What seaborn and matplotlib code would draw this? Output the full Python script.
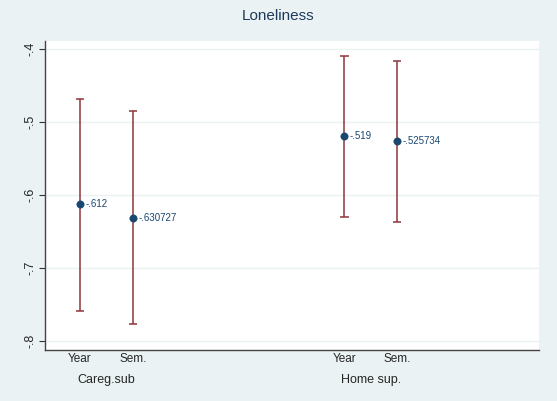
import matplotlib
matplotlib.use("Agg")
import matplotlib.pyplot as plt
import seaborn as sns
import pandas as pd

groups = ["Careg.sub", "Careg.sub", "Home sup.", "Home sup."]
kinds = ["Year", "Sem.", "Year", "Sem."]
positions = [1, 2, 6, 7]
estimates = [-0.612, -0.630727, -0.519, -0.525734]
labels = ["-.612", "-.630727", "-.519", "-.525734"]
ci_low = [-0.758, -0.777, -0.630, -0.637]
ci_high = [-0.468, -0.485, -0.410, -0.416]
yticks = [-0.4, -0.5, -0.6, -0.7, -0.8]
ytick_labels = ["-.4", "-.5", "-.6", "-.7", "-.8"]

df = pd.DataFrame({"pos": positions, "est": estimates, "lo": ci_low, "hi": ci_high})

sns.set_style("white")
plt.rcParams['font.family'] = ['Arial', 'Liberation Sans', 'DejaVu Sans']
bg = "#EAF2F3"
fig = plt.figure(figsize=(5.57, 4.01), dpi=100, facecolor=bg)
ax = fig.add_axes([45/557, 51/401, 494/557, 309/401])
ax.set_facecolor("white")

ax.vlines(df["pos"], df["lo"], df["hi"], color="#90353b", lw=1.1, zorder=2)
ax.hlines(df["lo"], df["pos"]-0.08, df["pos"]+0.08, color="#90353b", lw=1.1, zorder=2)
ax.hlines(df["hi"], df["pos"]-0.08, df["pos"]+0.08, color="#90353b", lw=1.1, zorder=2)
sns.scatterplot(data=df, x="pos", y="est", ax=ax, color="#1a476f", s=28, edgecolor="#1a476f", zorder=3)
for p, e, l in zip(positions, estimates, labels):
    ax.text(p + 0.1, e, l, fontsize=7, color="#1a476f", va="center", ha="left")

ax.set_xlim(0.34, 9.68)
ax.set_ylim(-0.812, -0.389)
ax.set_yticks(yticks)
ax.set_yticklabels(ytick_labels, rotation=90, va="center", fontsize=9)
ax.set_xticks(positions)
ax.set_xticklabels(kinds, fontsize=8.5)
ax.tick_params(axis="x", length=0, pad=2)
ax.tick_params(axis="y", length=4, left=True, color="#333333", pad=2)
for y in yticks:
    ax.axhline(y, color=bg, lw=1, zorder=1)
for gx, g in [(1.5, "Careg.sub"), (6.5, "Home sup.")]:
    ax.text(gx, -0.812 - 0.0325, g, fontsize=9, ha="center", va="top")
for s in ["top", "right"]:
    ax.spines[s].set_visible(False)
for s in ["left", "bottom"]:
    ax.spines[s].set_color("#444444")
    ax.spines[s].set_linewidth(1)
ax.set_xlabel("")
ax.set_ylabel("")
fig.text(0.5, 1 - 16/401, "Loneliness", ha="center", va="center", fontsize=11, color="#1e3a5c")
fig.savefig("out.png", dpi=100, facecolor=bg)
